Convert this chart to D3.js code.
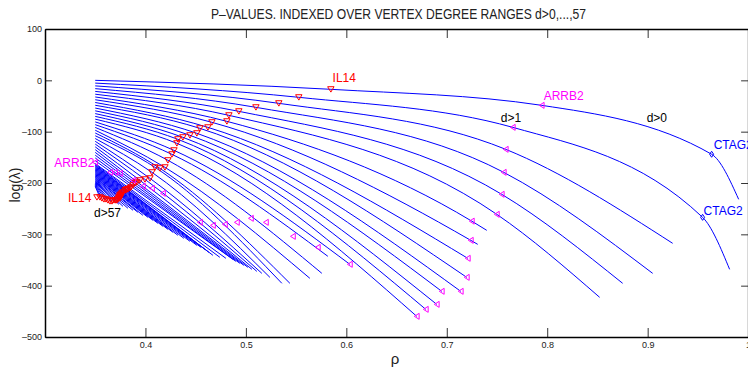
<!DOCTYPE html>
<html>
<head>
<meta charset="utf-8">
<script src="https://cdn.jsdelivr.net/npm/d3@7"></script>
<style>
  body { margin: 0; background: #fff; }
  text { font-family: "Liberation Sans Narrow", "Liberation Sans", Arial, sans-serif; }
</style>
</head>
<body>
<svg id="chart" width="748" height="369"></svg>
<script>
// one curve per degree range d>0 ... d>57, all starting at rho = 0.35
const degreeLabels = d3.range(58).map(d => "d>" + d);
const startRho = 0.35;
const startLog = [0, -5.4, -10.8, -16.2, -21.6, -27, -32.4, -37.8, -43.2, -48.6, -54, -59.4, -64.8, -70.2, -75.6,
  -81, -86.4, -91.8, -97.2, -102.6, -108, -113.4, -118.8, -124.2, -129.6, -135, -140.4, -145.8, -151.2, -156.6, -162,
  -163.6, -165.4, -166.9, -168.7, -170.3, -172, -173.6, -175.3, -176.9, -178.6, -180.2, -181.9, -183.5, -185.3,
  -186.8, -188.6, -190.1, -191.9, -193.4, -195.2, -196.7, -198.5, -200.1, -201.8, -203.4, -205.1, -206.7];
// an intermediate point read on the upper curves
const midRho = [0.5846, 0.5527, 0.5328, 0.51, 0.493, 0.4831, 0.4811, 0.4662, 0.4622, 0.4542, 0.4512, 0.4443, 0.4373,
  0.4323, 0.4313, 0.4284, 0.4264, 0.4224, 0.4194, 0.4144, 0.4095, 0.4065, 0.4045, 0.3995, 0.3945];
const midLog = [-17.5, -33.1, -44.8, -52.6, -60.4, -68.2, -79.9, -81.8, -91.6, -93.5, -103.2, -107.1, -111,
  -114.9, -122.7, -136.4, -144.2, -155.8, -169.5, -171.4, -169.5, -179.2, -190.9, -192.9, -194.8];
// a second point further along the top curves
const kneeRho = [0.7945, 0.7657, 0.7587, 0.7567, 0.7547, 0.7498, 0.7249, 0.7239];
const kneeLog = [-48.7, -91.6, -134.4, -179.2, -222, -261, -274.3, -311.7];
const endRho = [0.9906, 0.9816, 0.9249, 0.905, 0.8751, 0.8522, 0.7398, 0.7308, 0.7209, 0.7199, 0.7139, 0.695, 0.69,
  0.6791, 0.6701, 0.6035, 0.5816, 0.5756, 0.5637, 0.5438, 0.5358, 0.5239, 0.5159, 0.5109, 0.506, 0.502, 0.498, 0.494,
  0.49, 0.4871, 0.4801, 0.4741, 0.4672, 0.4632, 0.4592, 0.4552, 0.4512, 0.4443, 0.4383, 0.4323, 0.4274, 0.4224,
  0.4174, 0.4124, 0.4075, 0.4025, 0.3975, 0.3925, 0.3876, 0.3826, 0.3776, 0.3736, 0.3697, 0.3657, 0.3627, 0.3597,
  0.3567, 0.3547];
const endLog = [-231.8, -368.2, -317.5, -376, -395.4, -422.7, -292.2, -319.5, -346.7, -383.8, -411, -411, -436.4,
  -446.1, -459.7, -358.4, -342.8, -375.9, -385.7, -395.4, -395.4, -383.8, -376, -372.1, -368.2, -364.3, -360.4,
  -356.5, -352.6, -348.7, -346.7, -344.8, -340.9, -335.1, -329.2, -325.3, -321.4, -313.6, -307.8, -301.9, -296.1,
  -290.3, -284.4, -278.6, -272.7, -266.9, -263, -257.1, -253.2, -249.3, -245.4, -241.6, -237.7, -235.7, -233.8,
  -231.8, -229.9, -227.9];

// gene markers
const il14Rho = [0.5846, 0.5527, 0.5328, 0.51, 0.493, 0.4831, 0.4811, 0.4662, 0.4622, 0.4542, 0.4512, 0.4443, 0.4373,
  0.4323, 0.4313, 0.4284, 0.4264, 0.4224, 0.4194, 0.4144, 0.4095, 0.4065, 0.4045, 0.3995, 0.3945, 0.3915, 0.3896,
  0.3876, 0.3856, 0.3846, 0.3826, 0.3816, 0.3806, 0.3796, 0.3776, 0.3766, 0.3756, 0.3756, 0.3746, 0.3746, 0.3756,
  0.3746, 0.3736, 0.3746, 0.3736, 0.3726, 0.3716, 0.3706, 0.3697, 0.3677, 0.3667, 0.3647, 0.3627, 0.3607, 0.3587,
  0.3567, 0.3547, 0.3517];
const il14Log = [-17.5, -33.1, -44.8, -52.6, -60.4, -68.2, -79.9, -81.8, -91.6, -93.5, -103.2, -107.1, -111, -114.9,
  -122.7, -136.4, -144.2, -155.8, -169.5, -171.4, -169.5, -179.2, -190.9, -192.9, -194.8, -198.7, -200.6, -204.5,
  -208.4, -210.3, -212.3, -212.3, -214.3, -214.3, -218.2, -220.1, -222.1, -224, -224, -226, -226, -227.9, -227.9,
  -229.9, -229.9, -231.8, -233.8, -233.8, -233.8, -233.8, -235.7, -235.7, -233.8, -231.8, -231.8, -229.9, -227.9,
  -227.9];
const arrb2Rho = [0.7945, 0.7657, 0.7587, 0.7567, 0.7547, 0.7498, 0.7249, 0.7239, 0.7209, 0.7199, 0.7139, 0.695,
  0.69, 0.6791, 0.6701, 0.6035, 0.5716, 0.5468, 0.5199, 0.505, 0.491, 0.4791, 0.4672, 0.4542, 0.4174, 0.4065,
  0.3975, 0.3876, 0.3746, 0.3697, 0.3647, 0.3498];
const arrb2Log = [-48.7, -91.6, -134.4, -179.2, -222, -261, -274.3, -311.7, -346.7, -383.8, -411, -411, -436.4,
  -446.1, -459.7, -358.4, -325.3, -303.9, -276.6, -268.8, -276.6, -280.5, -282.5, -276.6, -220.1, -210.4, -206.5,
  -194.8, -181.2, -179.2, -179.2, -159.7];
const ctag2Curves = [0, 1];
const ctag2Rho = [0.9637, 0.9547];
const ctag2Log = [-144, -266.9];

const xTicks = [0.4, 0.5, 0.6, 0.7, 0.8, 0.9, 1];
const yTicks = [100, 0, -100, -200, -300, -400, -500];

const svg = d3.select("#chart");
const x = d3.scaleLinear().domain([0.3, 1.0]).range([45, 748.1]);
const y = d3.scaleLinear().domain([-500, 100]).range([337, 29]);

svg.append("rect").attr("width", 748).attr("height", 369).attr("fill", "#fff");

svg.append("defs").append("clipPath").attr("id", "plot")
  .append("rect").attr("x", 45).attr("y", 29).attr("width", 703.1).attr("height", 308);

function knots(i) {
  const pts = [[startRho, startLog[i]]];
  if (midRho[i] != null) pts.push([midRho[i], midLog[i]]);
  if (kneeRho[i] != null && kneeRho[i] < endRho[i] - 0.002) pts.push([kneeRho[i], kneeLog[i]]);
  const c = ctag2Curves.indexOf(i);
  if (c >= 0) pts.push([ctag2Rho[c], ctag2Log[c]]);
  pts.push([endRho[i], endLog[i]]);
  return pts;
}

const line = d3.line().x(d => x(d[0])).y(d => y(d[1])).curve(d3.curveMonotoneX);

const curves = svg.append("g").attr("clip-path", "url(#plot)");
curves.selectAll("path").data(degreeLabels).join("path")
  .attr("d", (lab, i) => line(knots(i)))
  .attr("fill", "none")
  .attr("stroke", "#0000ff")
  .attr("stroke-width", 1);

// axes (MATLAB style, ticks inside)
svg.append("g").attr("transform", "translate(0,337)")
  .call(d3.axisBottom(x).tickValues(xTicks).tickSize(-9).tickSizeOuter(0).tickPadding(5).tickFormat(d3.format("")));
svg.append("g").attr("transform", "translate(0,29)")
  .call(d3.axisTop(x).tickValues(xTicks).tickSize(-9).tickSizeOuter(0).tickFormat(""));
svg.append("g").attr("transform", "translate(45,0)")
  .call(d3.axisLeft(y).tickValues(yTicks).tickSize(-7).tickSizeOuter(0).tickPadding(3).tickFormat(d => String(d).replace("-", "\u2013")));
svg.append("g").attr("transform", "translate(748.1,0)")
  .call(d3.axisRight(y).tickValues(yTicks).tickSize(-7).tickSizeOuter(0).tickFormat(""));
svg.selectAll(".domain").attr("stroke", "#000").attr("stroke-width", 1.5);
svg.selectAll(".tick line").attr("stroke", "#000").attr("stroke-width", 0.8);
svg.selectAll(".tick text").attr("font-size", 9).attr("fill", "#222")
  .style("font-family", "'Liberation Sans Narrow','Liberation Sans',Arial,sans-serif");

// markers
const marks = svg.append("g").attr("fill", "none").attr("stroke-width", 1);
marks.selectAll(".il14").data(il14Rho).join("path").attr("class", "il14")
  .attr("d", "M-3.2,-2.6L3.2,-2.6L0,2.8Z")
  .attr("transform", (r, i) => `translate(${x(r)},${y(il14Log[i])})`)
  .attr("stroke", "#ff0000");
marks.selectAll(".arrb2").data(arrb2Rho).join("path").attr("class", "arrb2")
  .attr("d", "M-2.4,0L2.4,-3L2.4,3Z")
  .attr("transform", (r, i) => `translate(${x(r)},${y(arrb2Log[i])})`)
  .attr("stroke", "#ff00ff");
marks.selectAll(".ctag2").data(ctag2Rho).join("path").attr("class", "ctag2")
  .attr("d", "M0,-3L2,0L0,3L-2,0Z")
  .attr("transform", (r, k) => `translate(${x(r)},${y(ctag2Log[k])})`)
  .attr("stroke", "#0000ff");

// annotations
const notes = [
  { t: "IL14", rho: 0.5863, lg: -3.3, c: "#ff0000" },
  { t: "ARRB2", rho: 0.7965, lg: -37.6, c: "#ff00ff" },
  { t: "d>1", rho: 0.7537, lg: -80.8, c: "#000" },
  { t: "d>0", rho: 0.899, lg: -81.8, c: "#000" },
  { t: "CTAG2", rho: 0.9657, lg: -134.4, c: "#0000ff" },
  { t: "CTAG2", rho: 0.9557, lg: -263, c: "#0000ff" },
  { t: "ARRB2", rho: 0.3093, lg: -169, c: "#ff00ff" },
  { t: "IL14", rho: 0.3229, lg: -237, c: "#ff0000" },
  { t: "d>57", rho: 0.3488, lg: -266, c: "#000" }
];
svg.append("g").selectAll("text").data(notes).join("text")
  .attr("x", d => x(d.rho)).attr("y", d => y(d.lg))
  .attr("fill", d => d.c).attr("font-size", 12).text(d => d.t);

// title and axis labels
svg.append("text").attr("x", 398.5).attr("y", 19).attr("text-anchor", "middle")
  .attr("font-size", 14.5).attr("textLength", 375).attr("lengthAdjust", "spacingAndGlyphs")
  .attr("fill", "#222").text("P\u2013VALUES. INDEXED OVER VERTEX DEGREE RANGES d>0,...,57");
svg.append("text").attr("x", 395).attr("y", 364).attr("text-anchor", "middle")
  .attr("font-size", 15).attr("fill", "#222").text("\u03c1");
svg.append("text").attr("transform", "translate(20,185) rotate(-90)").attr("text-anchor", "middle")
  .attr("font-size", 14).attr("fill", "#222").text("log(\u03bb)");
</script>
</body>
</html>
